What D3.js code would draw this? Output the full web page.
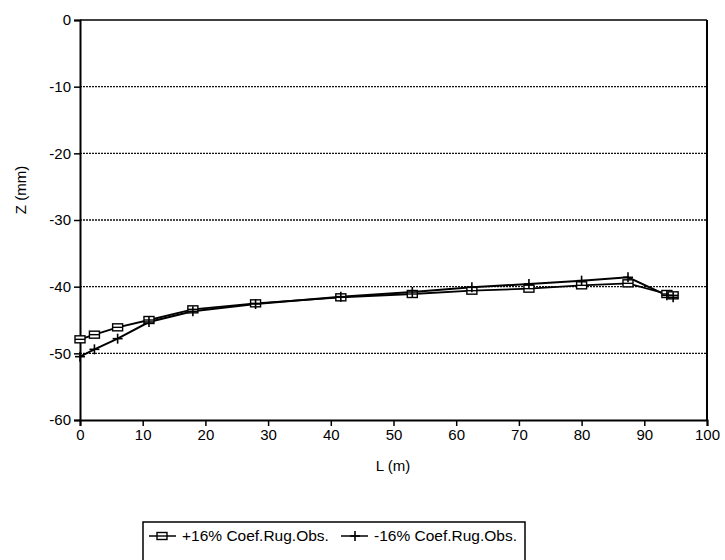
<!DOCTYPE html>
<html>
<head>
<meta charset="utf-8">
<script src="https://cdn.jsdelivr.net/npm/d3@7"></script>
<style>
  html, body { margin: 0; padding: 0; background: #fff; }
  svg { display: block; font-family: "Liberation Sans", Arial, sans-serif; }
</style>
</head>
<body>
<svg id="chart" width="725" height="560"></svg>
<script>
// Distance along the channel (m)
const distance = [0, 2.3, 6, 11, 18, 28, 41.6, 53, 62.5, 71.6, 80, 87.4, 93.6, 94.6];
// Water profile Z (mm) with roughness coefficient +16%
const plusSeries = [-47.9, -47.2, -46.1, -45.0, -43.4, -42.5, -41.6, -41.1, -40.6, -40.3, -39.8, -39.5, -41.1, -41.3];
// Water profile Z (mm) with roughness coefficient -16%
const minusSeries = [-50.5, -49.4, -47.8, -45.3, -43.7, -42.6, -41.5, -40.8, -40.1, -39.6, -39.1, -38.6, -41.3, -41.6];
const xTicks = [0, 10, 20, 30, 40, 50, 60, 70, 80, 90, 100];
const yTicks = [0, -10, -20, -30, -40, -50, -60];
const seriesNames = ["+16% Coef.Rug.Obs.", "-16% Coef.Rug.Obs."];

(function draw() {
  const svg = d3.select("#chart");
  const plotLeft = 80, plotRight = 707, plotTop = 20, plotBottom = 420;
  const fontSize = "15px";

  const x = d3.scaleLinear().domain([0, 100]).range([plotLeft, plotRight]);
  const y = d3.scaleLinear().domain([-60, 0]).range([plotBottom, plotTop]);
  const plainFormat = d => String(d);   // keep an ASCII hyphen for negatives

  // dotted horizontal gridlines
  svg.append("g").selectAll("line")
    .data(yTicks.filter(v => v !== -60 && v !== 0))
    .join("line")
    .attr("x1", plotLeft).attr("x2", plotRight)
    .attr("y1", d => y(d)).attr("y2", d => y(d))
    .attr("stroke", "#111").attr("stroke-width", 1.3)
    .attr("stroke-dasharray", "2,1");

  // top and right frame
  svg.append("line").attr("x1", plotLeft).attr("x2", plotRight).attr("y1", y(0)).attr("y2", y(0))
    .attr("stroke", "#000").attr("stroke-width", 1.5);
  svg.append("line").attr("x1", plotRight).attr("x2", plotRight).attr("y1", plotTop).attr("y2", plotBottom)
    .attr("stroke", "#000").attr("stroke-width", 2);

  // axes
  const xAxis = svg.append("g").attr("transform", `translate(0,${plotBottom})`)
    .call(d3.axisBottom(x).tickValues(xTicks).tickSize(6).tickPadding(3).tickFormat(plainFormat));
  const yAxis = svg.append("g").attr("transform", `translate(${plotLeft},0)`)
    .call(d3.axisLeft(y).tickValues(yTicks).tickSize(6).tickPadding(3).tickFormat(plainFormat));
  [xAxis, yAxis].forEach(g => {
    g.select(".domain").attr("stroke", "#000").attr("stroke-width", 2);
    g.selectAll(".tick line").attr("stroke", "#000").attr("stroke-width", 1.5);
    g.selectAll(".tick text").attr("fill", "#000").style("font-size", fontSize)
      .style("font-family", "'Liberation Sans', Arial, sans-serif");
  });

  // axis titles
  svg.append("text").attr("x", 393).attr("y", 471)
    .attr("text-anchor", "middle").style("font-size", fontSize).text("L (m)");
  svg.append("text").attr("transform", "translate(26,190) rotate(-90)")
    .attr("text-anchor", "middle").style("font-size", fontSize).text("Z (mm)");

  const line = d3.line().x(d => x(d[0])).y(d => y(d[1]));
  const plusPts = distance.map((d, i) => [d, plusSeries[i]]);
  const minusPts = distance.map((d, i) => [d, minusSeries[i]]);

  function squareMarker(g, cx, cy) {
    g.append("rect").attr("x", cx - 5).attr("y", cy - 3.5).attr("width", 10).attr("height", 7)
      .attr("fill", "#fff").attr("stroke", "#000").attr("stroke-width", 1.4);
    g.append("line").attr("x1", cx - 5).attr("x2", cx + 5).attr("y1", cy).attr("y2", cy)
      .attr("stroke", "#000").attr("stroke-width", 1.4);
  }
  function crossMarker(g, cx, cy) {
    g.append("line").attr("x1", cx).attr("x2", cx).attr("y1", cy - 5).attr("y2", cy + 5)
      .attr("stroke", "#000").attr("stroke-width", 1.6);
    g.append("line").attr("x1", cx - 5).attr("x2", cx + 5).attr("y1", cy).attr("y2", cy)
      .attr("stroke", "#000").attr("stroke-width", 1.6);
  }

  svg.append("path").datum(plusPts).attr("d", line)
    .attr("fill", "none").attr("stroke", "#000").attr("stroke-width", 1.8);
  svg.append("path").datum(minusPts).attr("d", line)
    .attr("fill", "none").attr("stroke", "#000").attr("stroke-width", 2);

  const plusG = svg.append("g");
  plusPts.forEach(p => squareMarker(plusG, x(p[0]), y(p[1])));
  const minusG = svg.append("g");
  minusPts.forEach(p => crossMarker(minusG, x(p[0]), y(p[1])));

  // legend
  const lg = svg.append("g");
  lg.append("rect").attr("x", 143).attr("y", 522).attr("width", 382).attr("height", 50)
    .attr("fill", "#fff").attr("stroke", "#000").attr("stroke-width", 1.5);
  lg.append("line").attr("x1", 149).attr("x2", 176).attr("y1", 536).attr("y2", 536)
    .attr("stroke", "#000").attr("stroke-width", 1.5);
  squareMarker(lg, 162, 536);
  lg.append("text").attr("x", 182).attr("y", 541).style("font-size", "15.5px").text(seriesNames[0]);
  lg.append("line").attr("x1", 341).attr("x2", 368).attr("y1", 536).attr("y2", 536)
    .attr("stroke", "#000").attr("stroke-width", 1.5);
  crossMarker(lg, 355, 536);
  lg.append("text").attr("x", 374).attr("y", 541).style("font-size", "15.5px").text(seriesNames[1]);
})();
</script>
</body>
</html>
